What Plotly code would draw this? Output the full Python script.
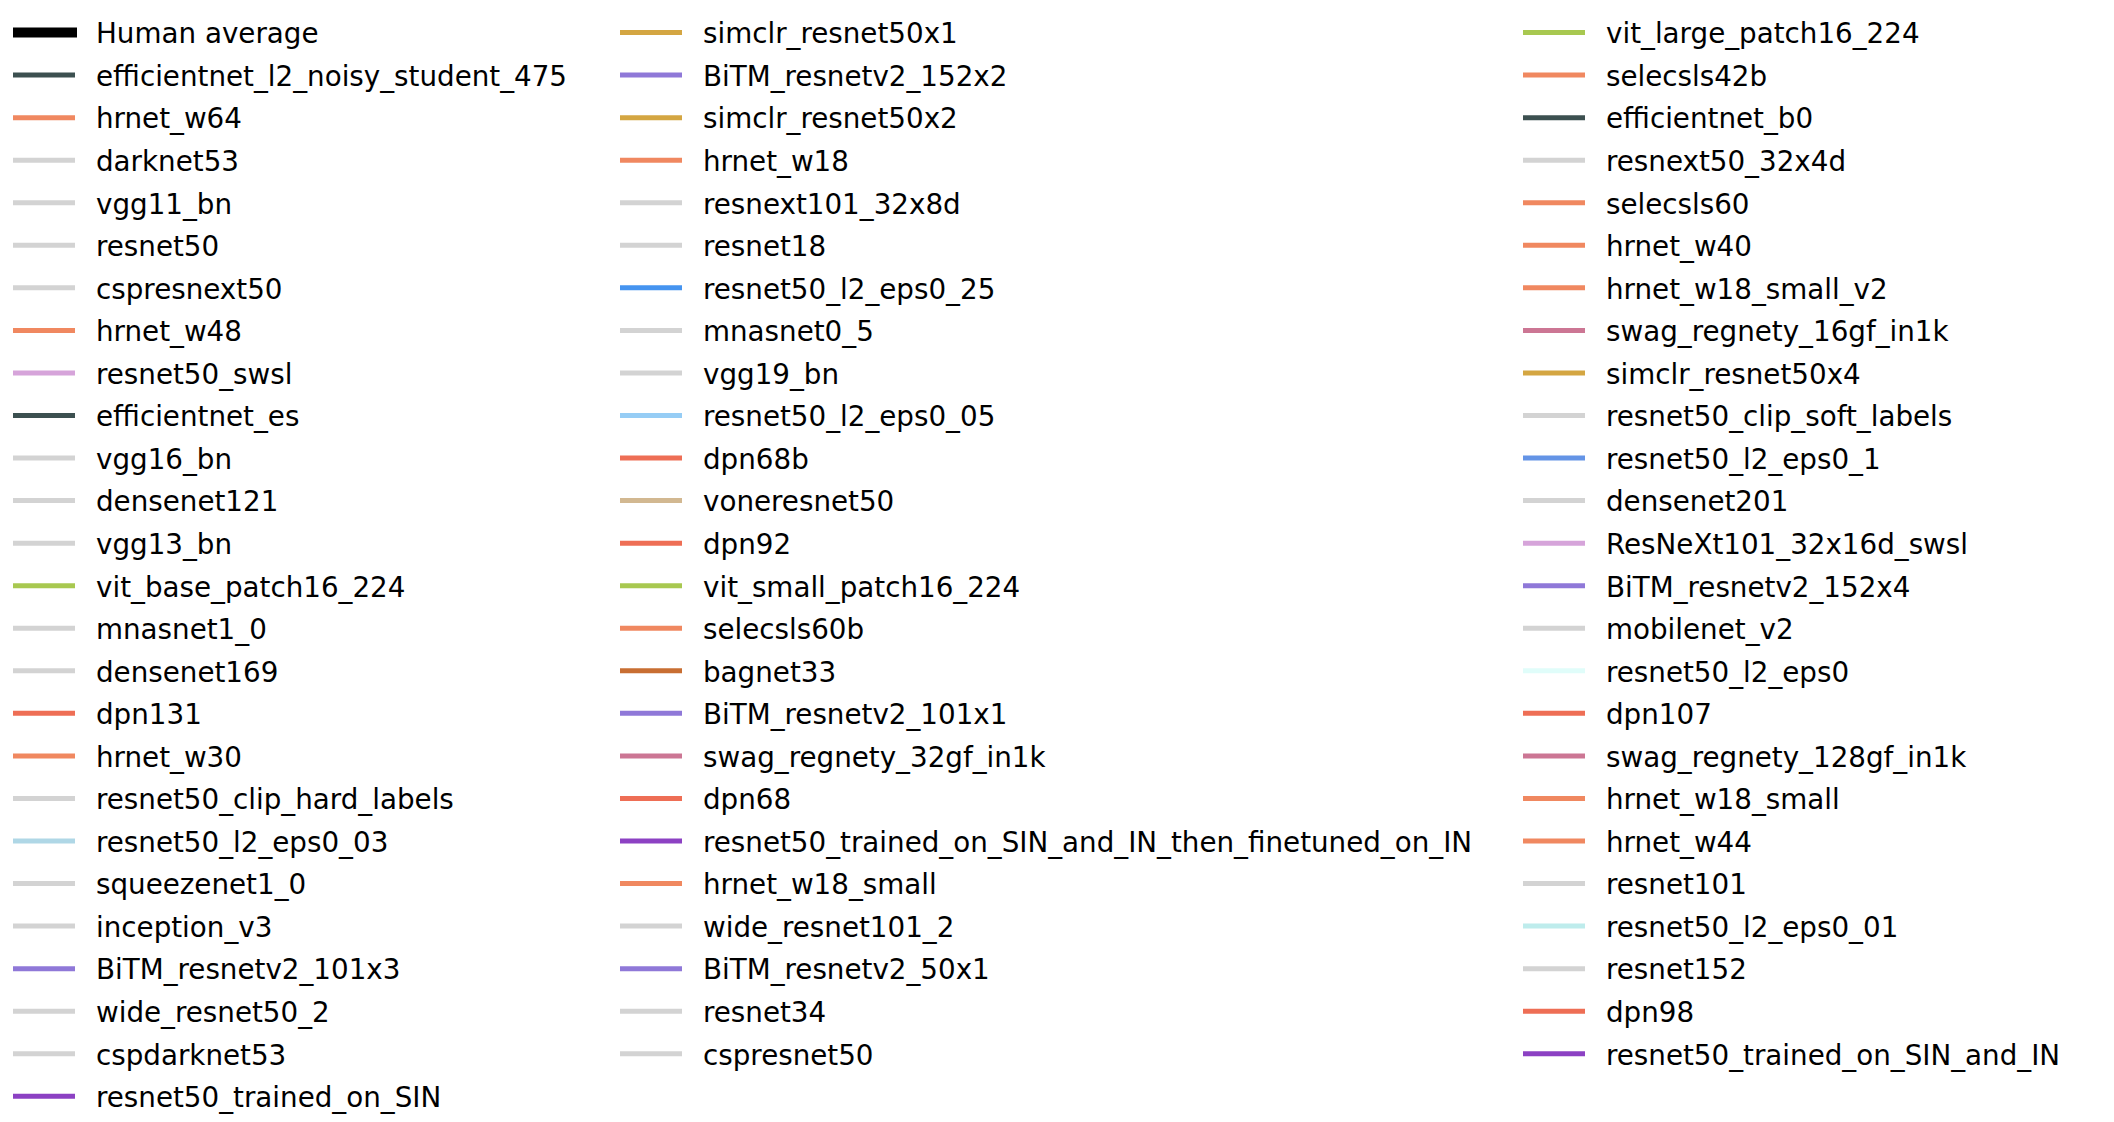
import plotly.graph_objects as go

W, H = 2114, 1122

col1_models = [
    "Human average", "efficientnet_l2_noisy_student_475", "hrnet_w64", "darknet53", "vgg11_bn",
    "resnet50", "cspresnext50", "hrnet_w48", "resnet50_swsl", "efficientnet_es", "vgg16_bn",
    "densenet121", "vgg13_bn", "vit_base_patch16_224", "mnasnet1_0", "densenet169", "dpn131",
    "hrnet_w30", "resnet50_clip_hard_labels", "resnet50_l2_eps0_03", "squeezenet1_0",
    "inception_v3", "BiTM_resnetv2_101x3", "wide_resnet50_2", "cspdarknet53",
    "resnet50_trained_on_SIN",
]
col2_models = [
    "simclr_resnet50x1", "BiTM_resnetv2_152x2", "simclr_resnet50x2", "hrnet_w18",
    "resnext101_32x8d", "resnet18", "resnet50_l2_eps0_25", "mnasnet0_5", "vgg19_bn",
    "resnet50_l2_eps0_05", "dpn68b", "voneresnet50", "dpn92", "vit_small_patch16_224",
    "selecsls60b", "bagnet33", "BiTM_resnetv2_101x1", "swag_regnety_32gf_in1k", "dpn68",
    "resnet50_trained_on_SIN_and_IN_then_finetuned_on_IN", "hrnet_w18_small",
    "wide_resnet101_2", "BiTM_resnetv2_50x1", "resnet34", "cspresnet50",
]
col3_models = [
    "vit_large_patch16_224", "selecsls42b", "efficientnet_b0", "resnext50_32x4d", "selecsls60",
    "hrnet_w40", "hrnet_w18_small_v2", "swag_regnety_16gf_in1k", "simclr_resnet50x4",
    "resnet50_clip_soft_labels", "resnet50_l2_eps0_1", "densenet201", "ResNeXt101_32x16d_swsl",
    "BiTM_resnetv2_152x4", "mobilenet_v2", "resnet50_l2_eps0", "dpn107",
    "swag_regnety_128gf_in1k", "hrnet_w18_small", "hrnet_w44", "resnet101",
    "resnet50_l2_eps0_01", "resnet152", "dpn98", "resnet50_trained_on_SIN_and_IN",
]

# style: colour per model family
GRAY = "#d3d3d3"
HRNET = "#f08860"
DPN = "#ee6e55"
EFF = "#3c5050"
VIT = "#a8c850"
SIMCLR = "#d4a642"
BIT = "#8f78d8"
SWAG = "#cc7694"
SIN = "#8c41c3"
SWSL = "#d6a4da"

def color_for(name):
    special = {
        "Human average": "#000000",
        "resnet50_l2_eps0_25": "#4594f0",
        "resnet50_l2_eps0_05": "#96cdf5",
        "resnet50_l2_eps0_03": "#afd7e6",
        "resnet50_l2_eps0_1": "#6494e6",
        "resnet50_l2_eps0_01": "#beecec",
        "resnet50_l2_eps0": "#e0fdfa",
        "voneresnet50": "#d2b891",
        "bagnet33": "#c86e32",
    }
    if name in special:
        return special[name]
    if name.startswith("hrnet") or name.startswith("selecsls"):
        return HRNET
    if name.startswith("dpn"):
        return DPN
    if name.startswith("efficientnet"):
        return EFF
    if name.startswith("vit_"):
        return VIT
    if name.startswith("simclr"):
        return SIMCLR
    if name.startswith("BiTM"):
        return BIT
    if name.startswith("swag"):
        return SWAG
    if "trained_on_SIN" in name:
        return SIN
    if "swsl" in name:
        return SWSL
    return GRAY

fig = go.Figure()
columns = [("legend", col1_models), ("legend2", col2_models), ("legend3", col3_models)]
gi = 0
for leg, models in columns:
    for name in models:
        gi += 1
        human = name == "Human average"
        fig.add_trace(go.Scatter(
            x=[None], y=[None], mode="lines", name=name,
            line=dict(color=color_for(name), width=10 if human else 5,
                      dash="64px,400px" if human else "62px,400px"),
            legend=leg, legendgroup=f"g{gi}", showlegend=True,
        ))

FONT = dict(family="DejaVu Sans", size=27.75, color="#000000")
common = dict(
    font=FONT, bgcolor="rgba(0,0,0,0)", borderwidth=0, tracegroupgap=3.475,
    itemwidth=78, xanchor="left", yanchor="top", y=1.0, orientation="v",
    traceorder="grouped", itemclick=False, itemdoubleclick=False,
)
fig.update_layout(
    width=W, height=H,
    margin=dict(l=0, r=0, t=0, b=0),
    paper_bgcolor="white", plot_bgcolor="white",
    xaxis=dict(visible=False), yaxis=dict(visible=False),
    legend=dict(x=0.0, **common),
    legend2=dict(x=607 / W, **common),
    legend3=dict(x=1510 / W, **common),
)
fig.write_html("out.html")
